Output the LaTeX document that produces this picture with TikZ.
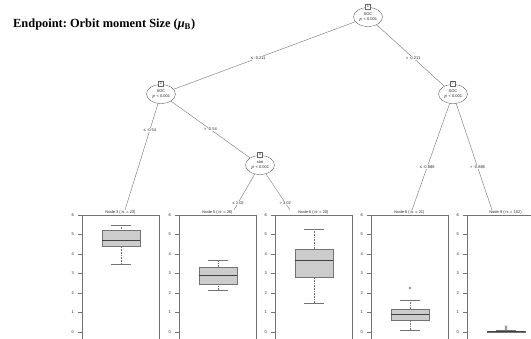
\documentclass[tikz,border=0pt]{standalone}
\usepackage{fontspec}
\setmainfont{Liberation Serif}
\setsansfont{Liberation Sans}
\usetikzlibrary{shapes.geometric}
\pgfdeclarelayer{bg}\pgfsetlayers{bg,main}
\frenchspacing
\tikzset{
 small/.style={font=\sffamily\fontsize{4}{4.6}\selectfont, text=black!85},
 inner/.style={ellipse, draw=black!60, line width=0.4pt, fill=white, minimum width=29pt, minimum height=19pt, inner sep=0pt, small, align=center},
 idbox/.style={draw=black!60, line width=0.4pt, fill=white, inner sep=0.6pt, minimum width=5pt, minimum height=5pt, small, anchor=south, yshift=-2pt},
 edge/.style={draw=black!55, line width=0.4pt},
 elab/.style={fill=white, inner sep=0.5pt, small},
 panel/.style={draw=black!55, line width=0.4pt},
 ttl/.style={small, fill=white, inner sep=0.3pt},
 ticklab/.style={small, anchor=east, inner sep=0pt},
 boxst/.style={draw=black!55, fill=black!20, line width=0.4pt},
 medst/.style={draw=black!75, line width=0.9pt},
 whisk/.style={draw=black!55, line width=0.35pt, dash pattern=on 0.8pt off 0.8pt},
 capst/.style={draw=black!55, line width=0.4pt},
 outl/.style={draw=black!60, line width=0.35pt},
}
\newcommand\termpanel[8]{%
 \draw[panel] (#2,215) rectangle (#2+77,342);
 \node[ttl] (#1) at (#2+38.5,212.5) {#3};
 \foreach \v in {0,...,6} {
   \draw[panel] (#2,332-19.5*\v) -- ++(-4,0);
   \node[ticklab] (#1-\v) at (#2-8,332-19.5*\v) {\v};
 }
 \begin{scope}[shift={(#2,332)}, y=19.5pt]
   \draw[whisk] (39,#4) -- (39,#5) (39,#7) -- (39,#8);
   \draw[capst] (29,#4) -- (49,#4) (29,#8) -- (49,#8);
   \draw[boxst] (20,#5) rectangle (58,#7);
   \draw[medst] (20,#6) -- (58,#6);
 \end{scope}}
\begin{document}
\begin{tikzpicture}[x=1pt,y=-1pt]
\useasboundingbox (0,0) rectangle (531,339);
\begin{pgfonlayer}{bg}
\fill[white] (0,0) rectangle (531,339);
\end{pgfonlayer}
\node[anchor=west, inner sep=0pt, font=\bfseries\fontsize{12.4}{14}\selectfont] (title) at (13,25) {Endpoint: Orbit moment Size (\textit{μ}\textsubscript{B})};

% inner nodes
\node[inner] (n1) at (368,17) {SOC\\$p$ < 0.001};
\node[idbox] (id1) at (n1.north) {1};
\node[inner] (n2) at (161,94) {SOC\\$p$ < 0.001};
\node[idbox] (id2) at (n2.north) {2};
\node[inner] (n4) at (260,165) {stoi\\$p$ < 0.001};
\node[idbox] (id4) at (n4.north) {4};
\node[inner] (n7) at (453,94) {SOC\\$p$ < 0.001};
\node[idbox] (id7) at (n7.north) {7};

% terminal ends
\coordinate (t3) at (125,210);
\coordinate (t5) at (234,210);
\coordinate (t6) at (290,210);
\coordinate (t8) at (412,210);
\coordinate (t9) at (492,210);

\begin{pgfonlayer}{bg}
\draw[edge] (n1.center) -- node[elab,pos=.53] (e12) {≤ -0.211} (n2.center);
\draw[edge] (n1.center) -- node[elab,pos=.53] (e17) {> -0.211} (n7.center);
\draw[edge] (n2.center) -- node[elab,pos=.31] (e23) {≤ -0.54} (t3);
\draw[edge] (n2.center) -- node[elab,pos=.5] (e24) {> -0.54} (n4.center);
\draw[edge] (n4.center) -- node[elab,pos=.84] (e45) {≤ 3.02} (t5);
\draw[edge] (n4.center) -- node[elab,pos=.84] (e46) {> 3.02} (t6);
\draw[edge] (n7.center) -- node[elab,pos=.63] (e78) {≤ -0.888} (t8);
\draw[edge] (n7.center) -- node[elab,pos=.63] (e79) {> -0.888} (t9);
\end{pgfonlayer}

% terminal panels
\termpanel{p3}{82}{Node 3 ($n$ = 23)}{3.5}{4.4}{4.7}{5.2}{5.5}
\termpanel{p5}{179}{Node 5 ($n$ = 26)}{2.15}{2.46}{2.92}{3.33}{3.69}
\termpanel{p6}{275}{Node 6 ($n$ = 20)}{1.49}{2.82}{3.69}{4.26}{5.28}
\termpanel{p8}{371}{Node 8 ($n$ = 21)}{0.1}{0.62}{0.92}{1.18}{1.64}
\termpanel{p9}{467}{Node 9 ($n$ = 102)}{0}{0}{0.02}{0.05}{0.1}
\begin{scope}[shift={(371,332)}, y=19.5pt]
 \draw[outl] (39,2.26) circle (1.1pt);
\end{scope}
\begin{scope}[shift={(467,332)}, y=19.5pt]
 \draw[outl] (39,0.17) circle (1.1pt);
 \draw[outl] (39,0.27) circle (1.1pt);
\end{scope}
\end{tikzpicture}
\end{document}
